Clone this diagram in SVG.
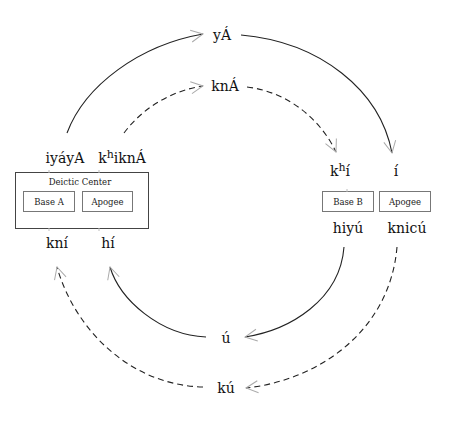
<svg xmlns="http://www.w3.org/2000/svg" width="457" height="429" viewBox="0 0 457 429">
<defs>
<marker id="arr" viewBox="-14 -8 16 16" refX="0" refY="0" markerWidth="16" markerHeight="16" markerUnits="userSpaceOnUse" orient="auto">
<path d="M-12,-6 L0,0 L-12,6" fill="none" stroke="#aaa" stroke-width="1"/>
</marker>
</defs>
<style>
.lbl{font-family:"DejaVu Serif","Liberation Serif",serif;font-size:14px;fill:#111;text-anchor:middle}
.sm{font-family:"DejaVu Serif","Liberation Serif",serif;font-size:8.5px;fill:#222;text-anchor:middle}
.box{fill:#fff;stroke:#444;stroke-width:1}
.ibox{fill:#fff;stroke:#777;stroke-width:1}
.c{fill:none;stroke:#222;stroke-width:1.1;marker-end:url(#arr)}
.d{stroke-dasharray:6 4}
.tick{stroke:#bbb;stroke-width:1}
</style>
<rect width="457" height="429" fill="#fff"/>
<g id="connectors">
<path class="c" d="M67,133 C85,85 140,45 203,34"/>
<path class="c" d="M241,35 C320,42 380,90 392,153"/>
<path class="c d" d="M124,133 C145,105 175,90 203,86"/>
<path class="c d" d="M247,87 C290,92 322,122 336,152"/>
<path class="c" d="M344,247 C340,300 290,330 245,337"/>
<path class="c d" d="M397,247 C390,330 320,380 246,388"/>
<path class="c" d="M206,337 C160,335 120,300 110,267"/>
<path class="c d" d="M203,387 C130,385 75,330 57,267"/>
</g>
<g id="deictic-center">
<rect class="box" x="15.5" y="172.5" width="133" height="56"/>
<text class="sm" x="80" y="185" font-size="9.5">Deictic Center</text>
<line class="tick" x1="49" y1="170" x2="49" y2="173"/>
<line class="tick" x1="99" y1="170" x2="99" y2="173"/>
<line class="tick" x1="49" y1="228" x2="49" y2="231"/>
<line class="tick" x1="99" y1="228" x2="99" y2="231"/>
</g>
<g id="base-a"><rect class="ibox" x="23.5" y="191.5" width="51" height="20"/><text class="sm" x="49" y="204.5">Base A</text></g>
<g id="apogee-a"><rect class="ibox" x="82.5" y="191.5" width="50" height="20"/><text class="sm" x="107.5" y="204.5">Apogee</text></g>
<g id="base-b"><rect class="ibox" x="322.5" y="191.5" width="51" height="20"/><text class="sm" x="348" y="204.5">Base B</text><line class="tick" x1="347" y1="189" x2="347" y2="192"/></g>
<g id="apogee-b"><rect class="ibox" x="379.5" y="191.5" width="51" height="20"/><text class="sm" x="405" y="204.5">Apogee</text></g>
<g id="n-iyayA"><text class="lbl" x="65" y="163">iyáyA</text></g>
<g id="n-khiknA"><text class="lbl" x="122" y="163">k<tspan dy="-5" font-size="11">h</tspan><tspan dy="5">iknÁ</tspan></text></g>
<g id="n-kni"><text class="lbl" x="57" y="248">kní</text></g>
<g id="n-hi"><text class="lbl" x="108" y="248">hí</text></g>
<g id="n-yA"><text class="lbl" x="222" y="40">yÁ</text></g>
<g id="n-knA"><text class="lbl" x="225" y="91">knÁ</text></g>
<g id="n-khi"><text class="lbl" x="340" y="176">k<tspan dy="-5" font-size="11">h</tspan><tspan dy="5">í</tspan></text></g>
<g id="n-i"><text class="lbl" x="396" y="176">í</text></g>
<g id="n-hiyu"><text class="lbl" x="348" y="233">hiyú</text></g>
<g id="n-knicu"><text class="lbl" x="407" y="233">knicú</text></g>
<g id="n-u"><text class="lbl" x="226" y="343">ú</text></g>
<g id="n-ku"><text class="lbl" x="226" y="393">kú</text></g>
</svg>
